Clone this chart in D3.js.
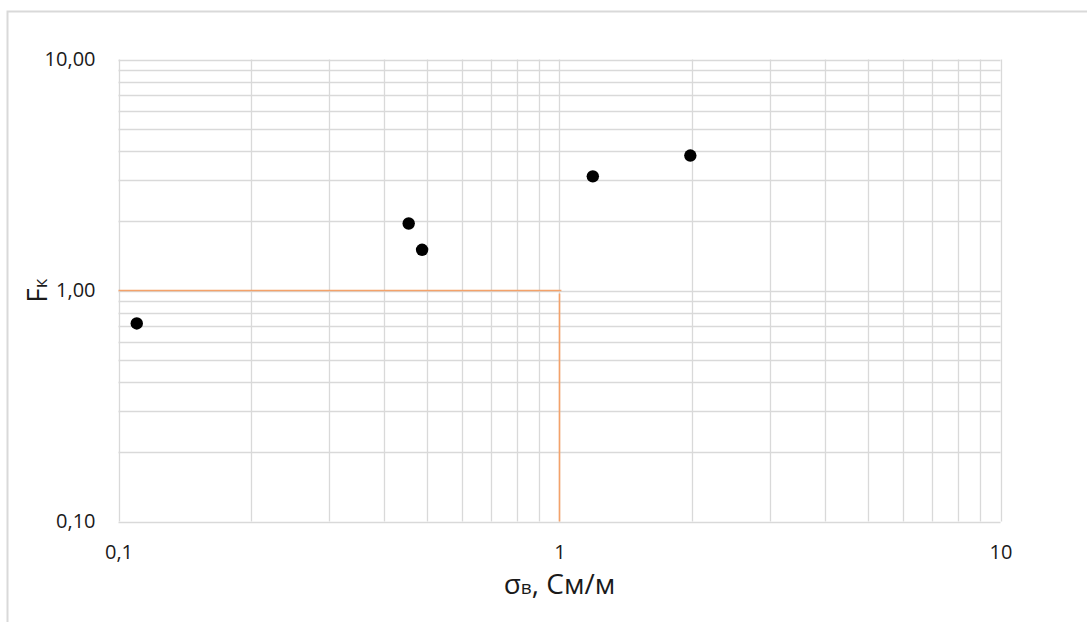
<!DOCTYPE html>
<html>
<head>
<meta charset="utf-8">
<script src="https://cdn.jsdelivr.net/npm/d3@7"></script>
<style>
  html, body { margin: 0; padding: 0; background: #fff; }
  svg { display: block; font-family: "Open Sans", "Noto Sans", sans-serif; }
</style>
</head>
<body>
<svg id="chart" width="1087" height="622"></svg>
<script>
// Measured points: conductivity σв (См/м) vs coefficient Fк
const sigmaValues = [0.11, 0.455, 0.488, 1.19, 1.98];
const fkValues = [0.72, 1.95, 1.50, 3.12, 3.84];

// Threshold guide lines (σв = 1, Fк = 1)
const thresholdH = [[0.1, 1], [1.01, 1]];
const thresholdV = [[1, 0.97], [1, 0.1]];

const xTickValues = [0.1, 1, 10];
const xTickLabels = ["0,1", "1", "10"];
const yTickValues = [0.1, 1, 10];
const yTickLabels = ["0,10", "1,00", "10,00"];

const svg = d3.select("#chart");
const W = 1087, H = 622;
const plot = { left: 118.5, right: 1000.5, top: 59.5, bottom: 521.5 };

// Chart frame
svg.append("path")
  .attr("d", `M7.5,${H} V11.5 H${W}`)
  .attr("fill", "none")
  .attr("stroke", "#d9d9d9")
  .attr("stroke-width", 2);

const x = d3.scaleLog().domain([0.1, 10]).range([plot.left, plot.right]);
const y = d3.scaleLog().domain([0.1, 10]).range([plot.bottom, plot.top]);

// Gridlines at every 1..9 multiple of each decade
const gridVals = [];
[0.1, 1].forEach(base => { for (let k = 1; k <= 10; k++) gridVals.push(+(base * k).toPrecision(3)); });
const uniq = Array.from(new Set(gridVals));

const grid = svg.append("g").attr("stroke", "#d9d9d9").attr("stroke-width", 1.3);
grid.selectAll("line.v").data(uniq).join("line")
  .attr("x1", d => Math.round(x(d)) + 0.5).attr("x2", d => Math.round(x(d)) + 0.5)
  .attr("y1", plot.top).attr("y2", plot.bottom);
grid.selectAll("line.h").data(uniq).join("line")
  .attr("y1", d => Math.round(y(d)) + 0.5).attr("y2", d => Math.round(y(d)) + 0.5)
  .attr("x1", plot.left).attr("x2", plot.right);

// Axes (labels only, lines come from the grid)
const xAxis = d3.axisBottom(x).tickValues(xTickValues)
  .tickFormat((d, i) => xTickLabels[i]).tickSize(0).tickPadding(23);
const gx = svg.append("g").attr("transform", `translate(0,${plot.bottom})`).call(xAxis);
gx.select(".domain").remove();
gx.selectAll("text").attr("font-size", 20).attr("fill", "#1a1a1a")
  .attr("font-family", "'Open Sans', sans-serif");

const yAxis = d3.axisLeft(y).tickValues(yTickValues)
  .tickFormat((d, i) => yTickLabels[i]).tickSize(0).tickPadding(23);
const gy = svg.append("g").attr("transform", `translate(${plot.left},0)`).call(yAxis);
gy.select(".domain").remove();
gy.selectAll("text").attr("font-size", 20).attr("fill", "#1a1a1a")
  .attr("font-family", "'Open Sans', sans-serif");

// Threshold lines
const line = d3.line().x(d => x(d[0])).y(d => y(d[1]));
[thresholdH, thresholdV].forEach(seg => {
  svg.append("path").attr("d", line(seg))
    .attr("fill", "none").attr("stroke", "#f4a26a").attr("stroke-width", 1.6);
});

// Data points
svg.append("g").selectAll("circle")
  .data(sigmaValues.map((s, i) => [s, fkValues[i]]))
  .join("circle")
  .attr("cx", d => x(d[0])).attr("cy", d => y(d[1]))
  .attr("r", 6.2).attr("fill", "#000");

// Axis titles
const xt = svg.append("text")
  .attr("x", (plot.left + plot.right) / 2).attr("y", 594)
  .attr("text-anchor", "middle").attr("font-size", 28).attr("fill", "#1a1a1a");
xt.append("tspan").text("σ");
xt.append("tspan").attr("font-size", 19).text("в");
xt.append("tspan").text(", См/м");

const yt = svg.append("text")
  .attr("transform", `translate(47,${y(1)}) rotate(-90)`)
  .attr("text-anchor", "middle").attr("font-size", 28).attr("fill", "#1a1a1a");
yt.append("tspan").text("F");
yt.append("tspan").attr("font-size", 19).text("к");
</script>
</body>
</html>
